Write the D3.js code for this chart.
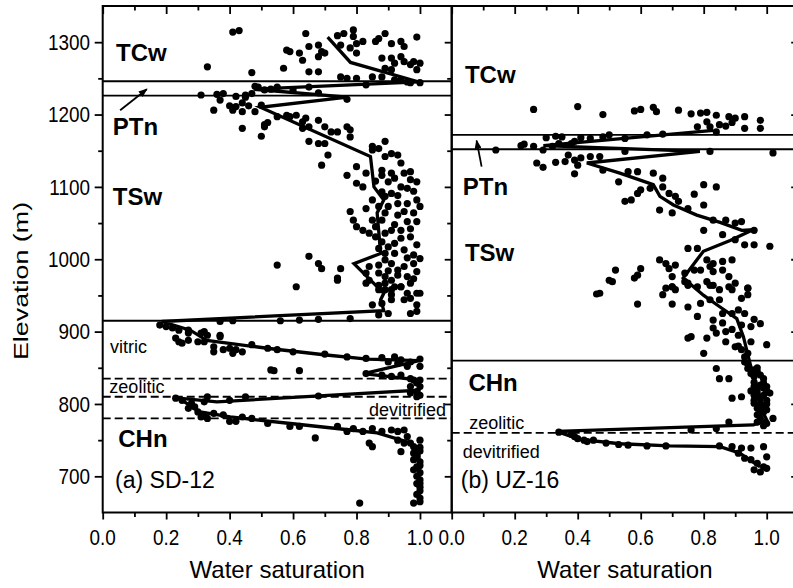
<!DOCTYPE html>
<meta charset="utf-8">
<style>
  body { margin: 0; background: #fff; }
  svg text { font-family: "Liberation Sans", Arial, sans-serif; fill: #000; }
</style>
<svg id="chart" width="793" height="588"></svg>
<script src="https://d3js.org/d3.v7.min.js"></script>
<script>

// saturation ticks and elevation ticks
var satTicks = [0, 0.2, 0.4, 0.6, 0.8, 1.0];
var satMinor = [0.1, 0.3, 0.5, 0.7, 0.9];
var elevTicks = [700, 800, 900, 1000, 1100, 1200, 1300];
var elevMinor = [750, 850, 950, 1050, 1150, 1250];

var unitNames = ["TCw", "PTn", "TSw", "CHn"];
var subUnitNames = ["vitric", "zeolitic", "devitrified"];

// (a) SD-12 : [saturation, elevation m]
var sd12Samples = [
  [0.41,1314],[0.43,1316],[0.33,1266],[0.64,1312],[0.58,1289],[0.59,1287],[0.62,1285],[0.63,1275],[0.57,1264],
  [0.65,1294],[0.68,1296],[0.69,1287],[0.70,1285],[0.68,1280],[0.65,1259],[0.68,1259],[0.47,1258],[0.74,1309],
  [0.76,1312],[0.79,1317],[0.79,1308],[0.80,1298],[0.80,1285],[0.82,1301],[0.78,1292],[0.75,1296],[0.86,1301],
  [0.87,1305],[0.89,1312],[0.91,1298],[0.94,1301],[0.95,1294],[0.99,1307],[0.88,1278],[0.91,1278],[0.92,1271],
  [0.94,1280],[0.95,1273],[0.97,1269],[0.98,1273],[1.00,1271],[0.99,1262],[0.91,1262],[0.89,1264],[0.75,1252],
  [0.77,1250],[0.80,1250],[0.83,1241],[0.85,1252],[0.88,1252],[0.92,1248],[0.96,1245],[1.00,1244],[0.94,1248],
  [0.97,1244],[0.48,1239],[0.49,1238],[0.53,1235],[0.55,1238],[0.60,1234],[0.65,1238],[0.68,1230],[0.77,1221],
  [0.45,1227],[0.47,1229],[0.45,1224],[0.51,1234],[0.42,1225],[0.31,1227],[0.36,1228],[0.38,1229],[0.37,1220],
  [0.35,1206],[0.40,1212],[0.41,1206],[0.42,1211],[0.44,1204],[0.44,1216],[0.46,1212],[0.48,1204],[0.50,1213],
  [0.44,1181],[0.50,1170],[0.51,1186],[0.52,1189],[0.51,1183],[0.55,1197],[0.58,1199],[0.59,1197],[0.61,1199],
  [0.63,1190],[0.64,1195],[0.65,1183],[0.63,1181],[0.68,1192],[0.70,1183],[0.72,1176],[0.74,1176],[0.77,1183],
  [0.78,1179],[0.78,1169],[0.65,1163],[0.68,1160],[0.70,1160],[0.71,1144],[0.69,1130],[0.77,1116],[0.80,1128],
  [0.83,1119],[0.85,1156],[0.85,1151],[0.87,1153],[0.89,1163],[0.89,1142],[0.91,1146],[0.93,1144],[0.94,1133],
  [0.95,1119],[0.97,1121],[0.99,1107],[0.97,1110],[0.88,1123],[0.88,1116],[0.90,1107],[0.91,1119],[0.94,1100],
  [0.91,1091],[0.89,1087],[0.88,1093],[0.85,1082],[0.80,1105],[0.82,1100],[0.87,1073],[0.90,1073],[0.93,1077],
  [0.96,1077],[0.99,1082],[1.00,1073],[0.98,1064],[0.95,1066],[0.93,1061],[0.89,1064],[0.88,1054],[0.85,1054],
  [0.83,1070],[0.78,1066],[0.79,1054],[0.80,1045],[0.82,1040],[0.84,1036],[0.86,1031],[0.89,1036],[0.91,1040],
  [0.94,1040],[0.96,1052],[0.99,1052],[0.97,1031],[0.94,1029],[0.92,1022],[0.90,1017],[0.88,1024],[0.87,1015],
  [0.89,1008],[0.92,1008],[0.95,1013],[0.98,1006],[1.00,1001],[0.98,994],[0.95,990],[0.93,985],[0.91,994],
  [0.89,999],[0.87,992],[0.84,990],[0.83,981],[0.84,971],[0.87,981],[0.89,976],[0.91,971],[0.93,978],[0.96,976],
  [0.99,983],[0.97,967],[0.94,962],[0.91,958],[0.89,967],[0.87,958],[0.99,953],[0.55,992],[0.65,1004],[0.68,994],
  [0.69,987],[0.75,987],[0.74,974],[0.61,962],
  [0.92,1112],[0.96,1098],[0.93,1088],[0.98,1094],[0.86,1108],[0.97,1042],[0.92,1048],[0.86,1045],[0.99,1020],
  [0.96,1002],[0.90,984],[0.98,973],[0.92,962],
  [0.74,971],[0.83,967],[0.87,964],[0.89,958],[0.91,951],[0.94,962],[0.96,953],[1.00,953],[0.99,937],[0.99,928],
  [0.97,925],[0.91,944],[0.88,939],[0.85,937],[0.90,925],[0.95,944],[0.97,946],[0.37,914],[0.41,915],[0.56,915],
  [0.62,916],[0.78,918],[0.68,917],[0.87,923],[0.18,909],[0.20,907],[0.22,905],[0.24,902],[0.27,902],[0.27,898],
  [0.23,891],[0.24,886],[0.25,884],[0.27,888],[0.31,898],[0.32,900],[0.33,895],[0.37,895],[0.37,893],[0.30,886],
  [0.32,886],[0.35,879],[0.35,872],[0.38,875],[0.40,877],[0.41,870],[0.42,875],[0.44,872],[0.47,882],[0.52,877],
  [0.55,875],[0.60,872],[0.70,869],[0.77,865],[0.83,863],[0.88,864],[0.92,865],[0.94,861],[0.97,858],[1.00,862],
  [1.00,852],[0.96,852],[0.93,856],[0.90,858],[0.53,847],[0.54,846],[0.62,846],[0.83,842],[0.88,840],[0.91,838],
  [0.94,840],[0.97,835],[0.98,833],[0.99,829],[1.00,833],[1.00,824],[0.97,824],[0.99,817],[0.97,815],[1.00,812],
  [0.99,810],[0.23,808],[0.25,805],[0.28,801],[0.29,796],[0.33,810],[0.32,803],[0.40,805],[0.45,810],[0.68,811],
  [0.27,794],[0.30,789],[0.31,782],[0.32,785],[0.33,780],[0.35,787],[0.38,785],[0.40,776],[0.42,776],[0.44,782],
  [0.47,780],[0.52,773],[0.59,769],[0.62,769],[0.67,753],[0.74,769],[0.77,762],[0.79,766],[0.82,762],[0.85,766],
  [0.88,762],[0.91,764],[0.93,762],[0.95,764],[0.96,755],[0.93,750],[0.95,746],[0.97,746],[0.98,741],[1.00,750],
  [0.84,746],[0.85,741],[0.94,734],[0.98,732],[0.98,723],[0.98,709],[0.99,713],[0.81,663],
  [1.00,740],[1.00,735],[0.99,728],[1.00,720],[1.00,715],[1.00,705],[0.99,700],[1.00,695],[1.00,690],[1.00,685],
  [1.00,680],[0.99,675],[1.00,670],[1.00,665],[0.98,663],[0.99,690]
];

var sd12Average = [
  [0.709,1307],[0.781,1272],[0.997,1245],[0.476,1235],[0.771,1224],[0.497,1210],[0.844,1142],[0.855,1100],
  [0.886,1082],[0.865,1064],[0.876,1008],[0.792,994],[0.886,953],[0.876,944],[0.886,929],[0.186,914],
  [0.276,902],[0.328,888],[0.518,877],[0.697,868],[0.834,862],[0.997,860],[0.823,842],[0.997,833],
  [0.997,819],[0.36,803],[0.239,808],[0.307,789],[0.402,782],[0.592,773],[0.781,764],[0.865,760],
  [0.971,746],[0.997,732],[0.997,663]
];

var sd12Contacts = [1246, 1226, 915];
var sd12SubContacts = [835, 810, 780];

// (b) UZ-16
var uz16Samples = [
  [0.26,1207],[0.40,1211],[0.48,1200],[0.58,1205],[0.60,1207],[0.64,1210],[0.65,1204],[0.72,1206],[0.76,1201],
  [0.79,1202],[0.81,1203],[0.84,1199],[0.88,1197],[0.90,1195],[0.93,1197],[0.98,1192],[0.78,1183],[0.81,1190],
  [0.82,1183],[0.85,1186],[0.87,1184],[0.89,1189],[0.93,1181],[0.98,1181],[0.84,1176],[0.30,1168],[0.33,1170],
  [0.35,1169],[0.39,1163],[0.41,1168],[0.44,1167],[0.48,1169],[0.50,1172],[0.55,1167],[0.62,1172],[0.67,1173],
  [0.22,1157],[0.23,1159],[0.26,1156],[0.14,1151],[0.29,1151],[0.32,1156],[0.38,1160],[0.34,1160],[0.55,1149],
  [0.82,1149],[1.02,1147],[0.27,1133],[0.29,1127],[0.33,1134],[0.36,1135],[0.37,1144],[0.39,1137],[0.40,1130],
  [0.41,1140],[0.44,1142],[0.47,1142],[0.48,1123],[0.39,1118],[0.53,1107],[0.56,1121],[0.59,1121],[0.60,1096],
  [0.57,1082],[0.55,1080],[0.59,1091],[0.64,1119],[0.67,1112],[0.67,1100],[0.63,1098],[0.66,1068],[0.69,1091],
  [0.71,1087],[0.77,1090],[0.72,1080],[0.75,1070],[0.70,1064],[0.80,1103],[0.84,1100],[0.80,1075],[0.83,1054],
  [0.87,1054],[0.90,1050],[0.92,1052],[0.96,1040],[0.80,1040],[0.86,1034],[0.90,1027],[0.93,1020],[0.96,1020],
  [1.01,1018],[0.75,1015],[0.78,1015],[0.81,999],[0.82,990],[0.83,994],[0.86,997],[0.89,999],[0.66,999],
  [0.68,994],[0.71,992],[0.69,987],[0.70,976],[0.74,981],[0.77,985],[0.79,985],[0.83,983],[0.86,985],[0.88,976],
  [0.90,967],[0.94,960],[0.89,958],[0.85,958],[0.83,964],[0.81,969],[0.75,967],[0.70,962],[0.68,960],[0.67,951],
  [0.50,971],[0.52,985],[0.60,987],[0.59,978],[0.58,974],[0.47,953],
  [0.46,952],[0.51,969],[0.59,938],[0.70,938],[0.70,962],[0.71,958],[0.74,969],[0.75,964],[0.78,962],[0.82,964],
  [0.88,962],[0.94,960],[0.94,951],[0.92,946],[0.85,944],[0.82,944],[0.79,939],[0.75,934],[0.78,921],[0.76,893],
  [0.75,891],[0.81,891],[0.84,898],[0.87,900],[0.92,909],[0.95,907],[0.98,911],[0.93,925],[0.89,925],[0.86,925],
  [0.83,916],[0.83,905],[0.87,886],[0.90,879],[0.95,886],[1.00,882],[0.80,870],[0.84,849],[0.85,835],[0.88,835],
  [0.93,858],[0.94,849],[0.96,847],[0.96,838],[0.99,829],[1.00,824],[0.96,824],[0.97,815],[0.98,808],[0.89,808],
  [0.92,810],[0.96,801],[0.97,794],[0.99,789],[1.02,780],[1.00,773],[0.88,775],[0.76,764],[0.84,766],
  [0.97,845],[0.98,840],[0.99,835],[1.00,818],[0.99,812],[0.98,800],[1.00,805],[0.97,785],[0.98,780],[0.96,830],
  [0.95,842],[0.94,855],[0.93,865],[0.92,875],[0.91,880],[0.94,870],
  [0.97,850],[0.96,812],[0.99,798],[1.00,792],[0.98,788],[0.97,820],[0.99,822],[1.01,815],[0.95,818],[0.96,805],
  [0.98,826],[1.00,800],[0.97,775],[0.99,770],[0.91,895],[0.89,903],[0.86,912],[0.91,930],[0.96,917],
  [0.38,758],[0.34,761],[0.39,755],[0.40,752],[0.42,750],[0.43,748],[0.45,750],[0.49,746],[0.53,744],[0.56,743],
  [0.62,742],[0.68,742],[0.85,742],[0.89,741],[0.92,739],[0.95,739],[0.99,741],[1.00,727],[0.91,732],[0.93,725],
  [0.95,723],[0.97,718],[0.99,713],[1.00,711],[0.98,706],[0.96,709]
];

var uz16Average = [
  [0.831,1178],[0.291,1157],[0.788,1149],[0.429,1133],[0.534,1119],[0.640,1103],[0.661,1087],[0.704,1075],
  [0.778,1061],[0.852,1051],[0.921,1040],[0.958,1041],[0.884,1026],[0.799,1011],[0.778,999],[0.735,974],
  [0.80,950],[0.852,934],[0.905,918],[0.926,893],[0.947,856],[0.968,824],[0.979,796],[1.0,778],[0.958,771],
  [0.333,762],[0.407,751],[0.534,745],[0.693,742],[0.852,741],[0.915,732],[0.979,713]
];

var uz16Contacts = [1172, 1152, 860];
var uz16SubContacts = [760];

var svg = d3.select("#chart");
svg.append("rect").attr("width", 793).attr("height", 588).attr("fill", "#fff");

svg.append("defs").append("marker")
    .attr("id", "head")
    .attr("markerUnits", "userSpaceOnUse")
    .attr("markerWidth", 9).attr("markerHeight", 7)
    .attr("refX", 8).attr("refY", 3.5)
    .attr("orient", "auto")
  .append("path").attr("d", "M0,0L9,3.5L0,7z").attr("fill", "#000");

var y = d3.scaleLinear().domain([650, 1350]).range([512.5, 6]);

var panels = [
  {
    x: d3.scaleLinear().domain([0, 1.1]).range([102.7, 451.7]),
    samples: sd12Samples, average: sd12Average,
    contacts: sd12Contacts, subContacts: sd12SubContacts,
    title: "(a) SD-12", titlePos: [0.039, 683.5],
    units: [[0.042, 1274], [0.032, 1172], [0.032, 1075], [0.049, 741]],
    subs: [[0.023, 870], [0.021, 815], [0.839, 783.4]],
    arrow: [[0.055, 1206], [0.139, 1235]]
  },
  {
    x: d3.scaleLinear().domain([0, 1.1]).range([451.7, 798.2]),
    samples: uz16Samples, average: uz16Average,
    contacts: uz16Contacts, subContacts: uz16SubContacts,
    title: "(b) UZ-16", titlePos: [0.029, 683.5],
    units: [[0.042, 1244], [0.035, 1089], [0.042, 997], [0.053, 818]],
    subs: [null, [0.056, 765], [0.035, 725]],
    arrow: [[0.095, 1128], [0.079, 1164]]
  }
];

function styleTicks(g) {
  g.select(".domain").remove();
  g.selectAll(".tick line").attr("stroke", "#000").attr("stroke-width", 1.8);
  g.selectAll(".tick text").remove();
}

panels.forEach(function(p) {
  var x = p.x;
  var g = svg.append("g");
  var x0 = x.range()[0], x1 = x.range()[1];

  // unit contacts
  g.selectAll(".contact").data(p.contacts).enter().append("line")
      .attr("x1", x0).attr("x2", x1)
      .attr("y1", function(d) { return y(d); }).attr("y2", function(d) { return y(d); })
      .attr("stroke", "#000").attr("stroke-width", 1.8);
  g.selectAll(".sub").data(p.subContacts).enter().append("line")
      .attr("x1", x0).attr("x2", x1)
      .attr("y1", function(d) { return y(d); }).attr("y2", function(d) { return y(d); })
      .attr("stroke", "#000").attr("stroke-width", 1.8).attr("stroke-dasharray", "8,4");

  // samples
  g.selectAll("circle").data(p.samples).enter().append("circle")
      .attr("cx", function(d) { return x(d[0]); })
      .attr("cy", function(d) { return y(d[1]); })
      .attr("r", 3.6).attr("fill", "#000");

  // average profile
  g.append("path").datum(p.average)
      .attr("fill", "none").attr("stroke", "#000").attr("stroke-width", 3.3)
      .attr("d", d3.line().x(function(d) { return x(d[0]); }).y(function(d) { return y(d[1]); }));

  // labels
  unitNames.forEach(function(t, k) {
    g.append("text").attr("x", x(p.units[k][0])).attr("y", y(p.units[k][1]))
        .attr("font-size", 24).attr("font-weight", "bold").text(t);
  });
  subUnitNames.forEach(function(t, k) {
    if (!p.subs[k]) return;
    g.append("text").attr("x", x(p.subs[k][0])).attr("y", y(p.subs[k][1]))
        .attr("font-size", 18).text(t);
  });
  g.append("text").attr("x", x(p.titlePos[0])).attr("y", y(p.titlePos[1]))
      .attr("font-size", 23).text(p.title);

  g.append("line")
      .attr("x1", x(p.arrow[0][0])).attr("y1", y(p.arrow[0][1]))
      .attr("x2", x(p.arrow[1][0])).attr("y2", y(p.arrow[1][1]))
      .attr("stroke", "#000").attr("stroke-width", 1.8).attr("marker-end", "url(#head)");

  // bottom axis, ticks outward
  svg.append("g").attr("transform", "translate(0,512.5)")
      .call(d3.axisBottom(x).tickValues(satTicks).tickSize(7)).call(styleTicks);
  svg.append("g").attr("transform", "translate(0,512.5)")
      .call(d3.axisBottom(x).tickValues(satMinor).tickSize(4.5)).call(styleTicks);
  // top axis, ticks inward
  svg.append("g").attr("transform", "translate(0,6)")
      .call(d3.axisBottom(x).tickValues(satTicks).tickSize(8)).call(styleTicks);
  svg.append("g").attr("transform", "translate(0,6)")
      .call(d3.axisBottom(x).tickValues(satMinor).tickSize(4.5)).call(styleTicks);

  satTicks.forEach(function(v) {
    svg.append("text")
        .attr("transform", "translate(" + x(v) + ",545) scale(0.86,1)")
        .attr("text-anchor", "middle").attr("font-size", 22)
        .text(d3.format(".1f")(v));
  });

  svg.append("text")
      .attr("x", (x0 + x1) / 2).attr("y", 578)
      .attr("text-anchor", "middle").attr("font-size", 24)
      .text("Water saturation");

  // frame
  svg.append("rect").attr("x", x0).attr("y", 6).attr("width", x1 - x0).attr("height", 506.5)
      .attr("fill", "none").attr("stroke", "#000").attr("stroke-width", 2);
});

// elevation axes (left, middle, right)
[102.7, 451.7, 798.2].forEach(function(px, k) {
  svg.append("g").attr("transform", "translate(" + px + ",0)")
      .call(d3.axisLeft(y).tickValues(elevTicks).tickSize(k === 0 ? 8 : 7)).call(styleTicks);
  svg.append("g").attr("transform", "translate(" + px + ",0)")
      .call(d3.axisLeft(y).tickValues(elevMinor).tickSize(4.5)).call(styleTicks);
});

elevTicks.forEach(function(v) {
  svg.append("text")
      .attr("transform", "translate(90," + (y(v) + 7.8) + ") scale(0.86,1)")
      .attr("text-anchor", "end").attr("font-size", 22)
      .text(v);
});

svg.append("text")
    .attr("transform", "translate(27.5,281) scale(0.83,1.12) rotate(-90)")
    .attr("text-anchor", "middle").attr("font-size", 24)
    .text("Elevation (m)");

</script>
